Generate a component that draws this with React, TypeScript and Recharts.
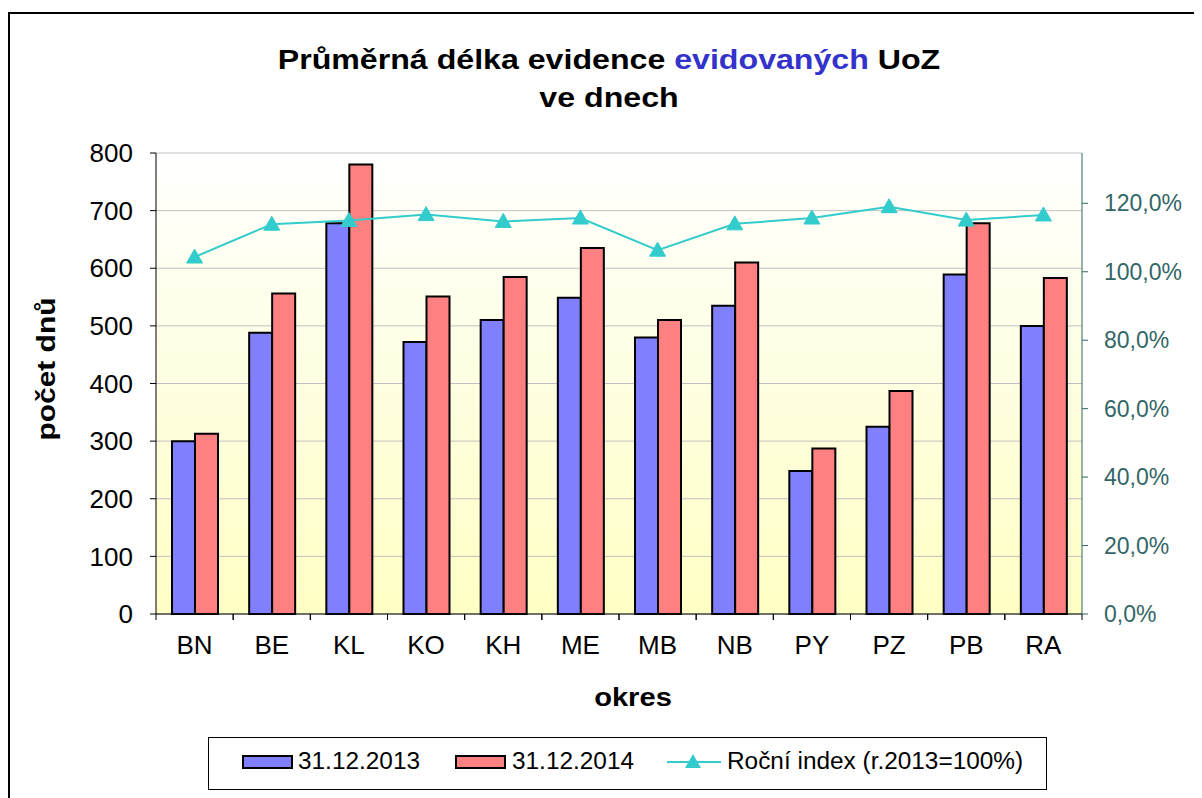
import React from 'react'
import { Bar, CartesianGrid, ComposedChart, Line, XAxis, YAxis } from 'recharts'

const okresy = ['BN', 'BE', 'KL', 'KO', 'KH', 'ME', 'MB', 'NB', 'PY', 'PZ', 'PB', 'RA']
const dny2013 = [300, 488, 678, 472, 510, 549, 480, 535, 248, 325, 589, 500]
const dny2014 = [313, 556, 780, 551, 585, 635, 510, 610, 287, 387, 678, 583]
const index = [1.043, 1.139, 1.150, 1.167, 1.147, 1.157, 1.063, 1.140, 1.157, 1.190, 1.151, 1.166]
const leftTicks = [0, 100, 200, 300, 400, 500, 600, 700, 800]
const rightTicks = [0, 0.2, 0.4, 0.6, 0.8, 1.0, 1.2]

const data = okresy.map((o, i) => ({ okres: o, d2013: dny2013[i], d2014: dny2014[i], idx: index[i] }))

const FONT = '"Liberation Sans", Arial, sans-serif'
const TEAL = '#336666'
const LINE = '#33CCCC'
const X_TICK = 6
const X_MARGIN = 16

const Triangle = (props: any) => {
  const { cx, cy } = props
  if (cx == null || cy == null) return null
  return <polygon points={`${cx},${cy - 8} ${cx - 8},${cy + 6} ${cx + 8},${cy + 6}`} fill={LINE} stroke={LINE} />
}

// category label plus tick marks on the band edges, like Excel
const CatTick = (props: any) => {
  const { x, y, payload } = props
  const half = payload.offset || 0
  const axisY = y - X_TICK - X_MARGIN
  return (
    <g>
      <line x1={x - half} x2={x - half} y1={axisY} y2={axisY + X_TICK} stroke="#000" />
      <line x1={x + half} x2={x + half} y1={axisY} y2={axisY + X_TICK} stroke="#000" />
      <text x={x} y={y} dy="0.71em" textAnchor="middle" fill="#000" fontSize={26}>{payload.value}</text>
    </g>
  )
}

const pct = (v: number) => (v * 100).toFixed(1).replace('.', ',') + '%'

function LegendBox() {
  const sw = (c: string, left: number) => ({
    position: 'absolute', left, top: 17, width: 47, height: 10, background: c, border: '2px solid #000'
  } as React.CSSProperties)
  const txt = (left: number) => ({
    position: 'absolute', left, top: 12, lineHeight: '23px', fontSize: 23, whiteSpace: 'nowrap',
    transform: 'scaleX(1.06)', transformOrigin: 'left center'
  } as React.CSSProperties)
  return (
    <div style={{
      position: 'absolute', left: 198, top: 723, width: 837, height: 51, border: '1px solid #000',
      fontFamily: FONT, color: '#000', background: '#fff'
    }}>
      <div style={sw('#8080FF', 33)} />
      <div style={txt(89)}>31.12.2013</div>
      <div style={sw('#FF8080', 246)} />
      <div style={txt(303)}>31.12.2014</div>
      <svg width={54} height={20} style={{ position: 'absolute', left: 458, top: 13 }}>
        <line x1={0} y1={11} x2={54} y2={11} stroke={LINE} strokeWidth={2} />
        <polygon points="26,3 18,17 34,17" fill={LINE} />
      </svg>
      <div style={txt(518)}>Roční index (r.2013=100%)</div>
    </div>
  )
}

export default function App() {
  return (
    <div style={{ paddingTop: 4 }}>
      <div style={{ position: 'relative', width: 1190, height: 790, border: '2px solid #000', background: '#fff', fontFamily: FONT }}>
        <div style={{ position: 'absolute', left: 0, width: 1198, top: 27, textAlign: 'center', fontWeight: 'bold', fontSize: 27, lineHeight: '38px', color: '#000', transform: 'scaleX(1.19)', transformOrigin: '599px 0' }}>
          Průměrná délka evidence <span style={{ color: '#3333CC' }}>evidovaných</span> UoZ<br />ve dnech
        </div>
        <div style={{ position: 'absolute', left: 36 - 100, top: 355 - 15, width: 200, height: 30, lineHeight: '30px', textAlign: 'center', transform: 'rotate(-90deg) scaleX(1.15)', fontWeight: 'bold', fontSize: 26, whiteSpace: 'nowrap' }}>
          počet dnů
        </div>
        <div style={{ position: 'absolute', left: 623 - 100, width: 200, top: 670, lineHeight: '26px', textAlign: 'center', fontWeight: 'bold', fontSize: 26, transform: 'scaleX(1.12)' }}>
          okres
        </div>
        <ComposedChart width={1190} height={790} data={data} barSize={23} barGap={0}
          margin={{ top: 139, right: 0, left: 0, bottom: 130 }} style={{ fontFamily: FONT }}>
          <defs>
            <linearGradient id="bg" x1="0" y1="0" x2="0" y2="1">
              <stop offset="0%" stopColor="#FFFFFF" />
              <stop offset="100%" stopColor="#FFFFC4" />
            </linearGradient>
          </defs>
          <CartesianGrid vertical={false} stroke="#C0C0C0" strokeWidth={1} fill="url(#bg)" yAxisId="left" />
          <XAxis dataKey="okres" height={60} tickLine={false} tickSize={X_TICK} tickMargin={X_MARGIN} interval={0}
            axisLine={{ stroke: '#000', strokeWidth: 1 }} tick={<CatTick />} />
          <YAxis yAxisId="left" width={146} domain={[0, 800]} ticks={leftTicks} interval={0}
            tickSize={6} tickMargin={17} axisLine={{ stroke: '#000' }} tickLine={{ stroke: '#000' }}
            tick={{ fill: '#000', fontSize: 26 }} />
          <YAxis yAxisId="right" orientation="right" width={118} domain={[0, 1.347]} ticks={rightTicks} interval={0}
            allowDataOverflow tickSize={6} tickMargin={16} tickFormatter={pct}
            axisLine={{ stroke: TEAL }} tickLine={{ stroke: TEAL }} tick={{ fill: TEAL, fontSize: 23 }} />
          <Bar yAxisId="left" dataKey="d2013" name="31.12.2013" fill="#8080FF" stroke="#000" strokeWidth={2} isAnimationActive={false} />
          <Bar yAxisId="left" dataKey="d2014" name="31.12.2014" fill="#FF8080" stroke="#000" strokeWidth={2} isAnimationActive={false} />
          <Line yAxisId="right" dataKey="idx" name="Roční index (r.2013=100%)" stroke={LINE} strokeWidth={2}
            dot={<Triangle />} activeDot={false} isAnimationActive={false} />
        </ComposedChart>
        <LegendBox />
      </div>
    </div>
  )
}
